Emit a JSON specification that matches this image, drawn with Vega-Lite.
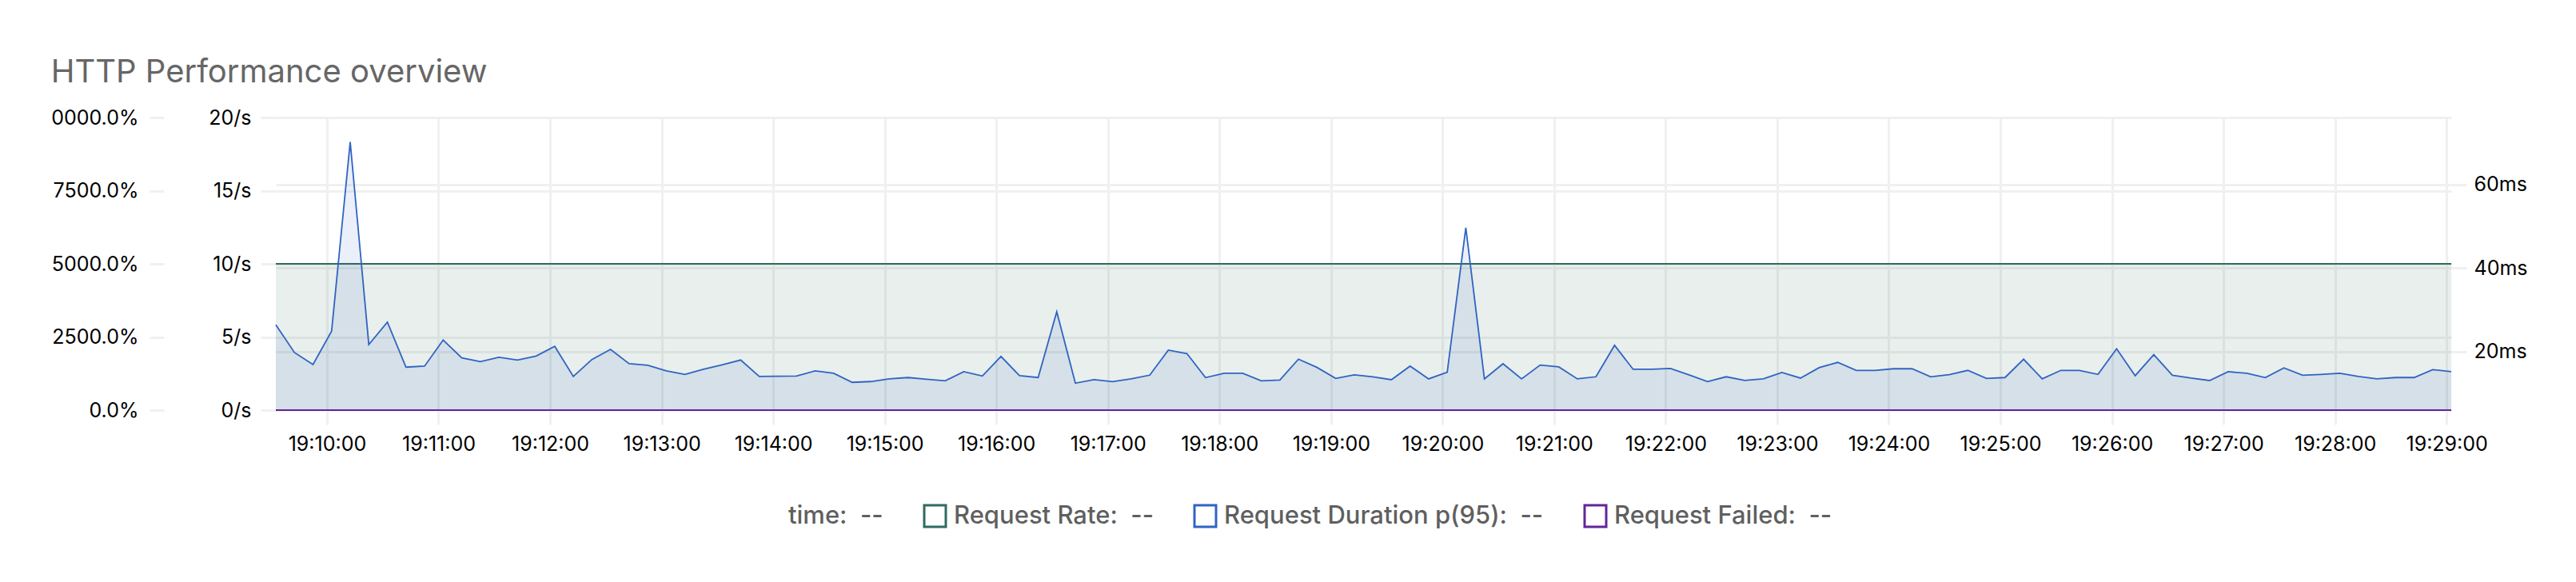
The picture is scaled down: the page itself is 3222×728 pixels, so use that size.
{
  "$schema": "https://vega.github.io/schema/vega-lite/v6.json",
  "width": 2721,
  "height": 366,
  "autosize": {"type": "none"},
  "padding": {"left": 345, "top": 147, "right": 156, "bottom": 215},
  "background": "white",
  "title": {"text": "HTTP Performance overview", "anchor": "start", "frame": "bounds", "font": "Inter", "fontSize": 40, "fontWeight": "normal", "color": "#666666", "baseline": "alphabetic", "offset": -8},
  "config": {
    "font": "Inter",
    "view": {"stroke": null},
    "axis": {"domain": false, "gridColor": "#f0f0f0", "gridWidth": 3, "tickColor": "#f0f0f0", "tickWidth": 3, "labelFont": "Inter", "labelFontSize": 25, "labelColor": "#000000"}
  },
  "data": {"values": [
    {"t": "2024-05-01T19:09:32.500", "rate": 10, "dur": 26.39, "failed": 0},
    {"t": "2024-05-01T19:09:42.500", "rate": 10, "dur": 19.74, "failed": 0},
    {"t": "2024-05-01T19:09:52.500", "rate": 10, "dur": 16.87, "failed": 0},
    {"t": "2024-05-01T19:10:02.500", "rate": 10, "dur": 24.86, "failed": 0},
    {"t": "2024-05-01T19:10:12.500", "rate": 10, "dur": 70.24, "failed": 0},
    {"t": "2024-05-01T19:10:22.500", "rate": 10, "dur": 21.66, "failed": 0},
    {"t": "2024-05-01T19:10:32.500", "rate": 10, "dur": 27.03, "failed": 0},
    {"t": "2024-05-01T19:10:42.500", "rate": 10, "dur": 16.23, "failed": 0},
    {"t": "2024-05-01T19:10:52.500", "rate": 10, "dur": 16.48, "failed": 0},
    {"t": "2024-05-01T19:11:02.500", "rate": 10, "dur": 22.75, "failed": 0},
    {"t": "2024-05-01T19:11:12.500", "rate": 10, "dur": 18.47, "failed": 0},
    {"t": "2024-05-01T19:11:22.500", "rate": 10, "dur": 17.57, "failed": 0},
    {"t": "2024-05-01T19:11:32.500", "rate": 10, "dur": 18.59, "failed": 0},
    {"t": "2024-05-01T19:11:42.500", "rate": 10, "dur": 17.95, "failed": 0},
    {"t": "2024-05-01T19:11:52.500", "rate": 10, "dur": 18.91, "failed": 0},
    {"t": "2024-05-01T19:12:02.500", "rate": 10, "dur": 21.21, "failed": 0},
    {"t": "2024-05-01T19:12:12.500", "rate": 10, "dur": 13.99, "failed": 0},
    {"t": "2024-05-01T19:12:22.500", "rate": 10, "dur": 18.08, "failed": 0},
    {"t": "2024-05-01T19:12:32.500", "rate": 10, "dur": 20.51, "failed": 0},
    {"t": "2024-05-01T19:12:42.500", "rate": 10, "dur": 17.06, "failed": 0},
    {"t": "2024-05-01T19:12:52.500", "rate": 10, "dur": 16.68, "failed": 0},
    {"t": "2024-05-01T19:13:02.500", "rate": 10, "dur": 15.33, "failed": 0},
    {"t": "2024-05-01T19:13:12.500", "rate": 10, "dur": 14.50, "failed": 0},
    {"t": "2024-05-01T19:13:22.500", "rate": 10, "dur": 15.72, "failed": 0},
    {"t": "2024-05-01T19:13:32.500", "rate": 10, "dur": 16.80, "failed": 0},
    {"t": "2024-05-01T19:13:42.500", "rate": 10, "dur": 17.95, "failed": 0},
    {"t": "2024-05-01T19:13:52.500", "rate": 10, "dur": 13.99, "failed": 0},
    {"t": "2024-05-01T19:14:02.500", "rate": 10, "dur": 14.06, "failed": 0},
    {"t": "2024-05-01T19:14:12.500", "rate": 10, "dur": 14.12, "failed": 0},
    {"t": "2024-05-01T19:14:22.500", "rate": 10, "dur": 15.33, "failed": 0},
    {"t": "2024-05-01T19:14:32.500", "rate": 10, "dur": 14.76, "failed": 0},
    {"t": "2024-05-01T19:14:42.500", "rate": 10, "dur": 12.59, "failed": 0},
    {"t": "2024-05-01T19:14:52.500", "rate": 10, "dur": 12.78, "failed": 0},
    {"t": "2024-05-01T19:15:02.500", "rate": 10, "dur": 13.42, "failed": 0},
    {"t": "2024-05-01T19:15:12.500", "rate": 10, "dur": 13.74, "failed": 0},
    {"t": "2024-05-01T19:15:22.500", "rate": 10, "dur": 13.35, "failed": 0},
    {"t": "2024-05-01T19:15:32.500", "rate": 10, "dur": 12.97, "failed": 0},
    {"t": "2024-05-01T19:15:42.500", "rate": 10, "dur": 15.14, "failed": 0},
    {"t": "2024-05-01T19:15:52.500", "rate": 10, "dur": 14.12, "failed": 0},
    {"t": "2024-05-01T19:16:02.500", "rate": 10, "dur": 18.79, "failed": 0},
    {"t": "2024-05-01T19:16:12.500", "rate": 10, "dur": 14.18, "failed": 0},
    {"t": "2024-05-01T19:16:22.500", "rate": 10, "dur": 13.74, "failed": 0},
    {"t": "2024-05-01T19:16:32.500", "rate": 10, "dur": 29.52, "failed": 0},
    {"t": "2024-05-01T19:16:42.500", "rate": 10, "dur": 12.39, "failed": 0},
    {"t": "2024-05-01T19:16:52.500", "rate": 10, "dur": 13.22, "failed": 0},
    {"t": "2024-05-01T19:17:02.500", "rate": 10, "dur": 12.78, "failed": 0},
    {"t": "2024-05-01T19:17:12.500", "rate": 10, "dur": 13.42, "failed": 0},
    {"t": "2024-05-01T19:17:22.500", "rate": 10, "dur": 14.31, "failed": 0},
    {"t": "2024-05-01T19:17:32.500", "rate": 10, "dur": 20.32, "failed": 0},
    {"t": "2024-05-01T19:17:42.500", "rate": 10, "dur": 19.49, "failed": 0},
    {"t": "2024-05-01T19:17:52.500", "rate": 10, "dur": 13.74, "failed": 0},
    {"t": "2024-05-01T19:18:02.500", "rate": 10, "dur": 14.76, "failed": 0},
    {"t": "2024-05-01T19:18:12.500", "rate": 10, "dur": 14.76, "failed": 0},
    {"t": "2024-05-01T19:18:22.500", "rate": 10, "dur": 12.97, "failed": 0},
    {"t": "2024-05-01T19:18:32.500", "rate": 10, "dur": 13.16, "failed": 0},
    {"t": "2024-05-01T19:18:42.500", "rate": 10, "dur": 18.15, "failed": 0},
    {"t": "2024-05-01T19:18:52.500", "rate": 10, "dur": 16.16, "failed": 0},
    {"t": "2024-05-01T19:19:02.500", "rate": 10, "dur": 13.54, "failed": 0},
    {"t": "2024-05-01T19:19:12.500", "rate": 10, "dur": 14.38, "failed": 0},
    {"t": "2024-05-01T19:19:22.500", "rate": 10, "dur": 13.93, "failed": 0},
    {"t": "2024-05-01T19:19:32.500", "rate": 10, "dur": 13.22, "failed": 0},
    {"t": "2024-05-01T19:19:42.500", "rate": 10, "dur": 16.48, "failed": 0},
    {"t": "2024-05-01T19:19:52.500", "rate": 10, "dur": 13.42, "failed": 0},
    {"t": "2024-05-01T19:20:02.500", "rate": 10, "dur": 15.01, "failed": 0},
    {"t": "2024-05-01T19:20:12.500", "rate": 10, "dur": 49.66, "failed": 0},
    {"t": "2024-05-01T19:20:22.500", "rate": 10, "dur": 13.42, "failed": 0},
    {"t": "2024-05-01T19:20:32.500", "rate": 10, "dur": 17.06, "failed": 0},
    {"t": "2024-05-01T19:20:42.500", "rate": 10, "dur": 13.42, "failed": 0},
    {"t": "2024-05-01T19:20:52.500", "rate": 10, "dur": 16.74, "failed": 0},
    {"t": "2024-05-01T19:21:02.500", "rate": 10, "dur": 16.29, "failed": 0},
    {"t": "2024-05-01T19:21:12.500", "rate": 10, "dur": 13.42, "failed": 0},
    {"t": "2024-05-01T19:21:22.500", "rate": 10, "dur": 13.93, "failed": 0},
    {"t": "2024-05-01T19:21:32.500", "rate": 10, "dur": 21.47, "failed": 0},
    {"t": "2024-05-01T19:21:42.500", "rate": 10, "dur": 15.72, "failed": 0},
    {"t": "2024-05-01T19:21:52.500", "rate": 10, "dur": 15.72, "failed": 0},
    {"t": "2024-05-01T19:22:02.500", "rate": 10, "dur": 15.91, "failed": 0},
    {"t": "2024-05-01T19:22:12.500", "rate": 10, "dur": 14.38, "failed": 0},
    {"t": "2024-05-01T19:22:22.500", "rate": 10, "dur": 12.78, "failed": 0},
    {"t": "2024-05-01T19:22:32.500", "rate": 10, "dur": 13.93, "failed": 0},
    {"t": "2024-05-01T19:22:42.500", "rate": 10, "dur": 13.03, "failed": 0},
    {"t": "2024-05-01T19:22:52.500", "rate": 10, "dur": 13.42, "failed": 0},
    {"t": "2024-05-01T19:23:02.500", "rate": 10, "dur": 14.95, "failed": 0},
    {"t": "2024-05-01T19:23:12.500", "rate": 10, "dur": 13.61, "failed": 0},
    {"t": "2024-05-01T19:23:22.500", "rate": 10, "dur": 16.10, "failed": 0},
    {"t": "2024-05-01T19:23:32.500", "rate": 10, "dur": 17.38, "failed": 0},
    {"t": "2024-05-01T19:23:42.500", "rate": 10, "dur": 15.46, "failed": 0},
    {"t": "2024-05-01T19:23:52.500", "rate": 10, "dur": 15.46, "failed": 0},
    {"t": "2024-05-01T19:24:02.500", "rate": 10, "dur": 15.85, "failed": 0},
    {"t": "2024-05-01T19:24:12.500", "rate": 10, "dur": 15.85, "failed": 0},
    {"t": "2024-05-01T19:24:22.500", "rate": 10, "dur": 13.93, "failed": 0},
    {"t": "2024-05-01T19:24:32.500", "rate": 10, "dur": 14.44, "failed": 0},
    {"t": "2024-05-01T19:24:42.500", "rate": 10, "dur": 15.46, "failed": 0},
    {"t": "2024-05-01T19:24:52.500", "rate": 10, "dur": 13.54, "failed": 0},
    {"t": "2024-05-01T19:25:02.500", "rate": 10, "dur": 13.74, "failed": 0},
    {"t": "2024-05-01T19:25:12.500", "rate": 10, "dur": 18.15, "failed": 0},
    {"t": "2024-05-01T19:25:22.500", "rate": 10, "dur": 13.42, "failed": 0},
    {"t": "2024-05-01T19:25:32.500", "rate": 10, "dur": 15.46, "failed": 0},
    {"t": "2024-05-01T19:25:42.500", "rate": 10, "dur": 15.46, "failed": 0},
    {"t": "2024-05-01T19:25:52.500", "rate": 10, "dur": 14.50, "failed": 0},
    {"t": "2024-05-01T19:26:02.500", "rate": 10, "dur": 20.64, "failed": 0},
    {"t": "2024-05-01T19:26:12.500", "rate": 10, "dur": 14.18, "failed": 0},
    {"t": "2024-05-01T19:26:22.500", "rate": 10, "dur": 19.23, "failed": 0},
    {"t": "2024-05-01T19:26:32.500", "rate": 10, "dur": 14.31, "failed": 0},
    {"t": "2024-05-01T19:26:42.500", "rate": 10, "dur": 13.61, "failed": 0},
    {"t": "2024-05-01T19:26:52.500", "rate": 10, "dur": 13.03, "failed": 0},
    {"t": "2024-05-01T19:27:02.500", "rate": 10, "dur": 15.14, "failed": 0},
    {"t": "2024-05-01T19:27:12.500", "rate": 10, "dur": 14.76, "failed": 0},
    {"t": "2024-05-01T19:27:22.500", "rate": 10, "dur": 13.74, "failed": 0},
    {"t": "2024-05-01T19:27:32.500", "rate": 10, "dur": 16.04, "failed": 0},
    {"t": "2024-05-01T19:27:42.500", "rate": 10, "dur": 14.31, "failed": 0},
    {"t": "2024-05-01T19:27:52.500", "rate": 10, "dur": 14.50, "failed": 0},
    {"t": "2024-05-01T19:28:02.500", "rate": 10, "dur": 14.76, "failed": 0},
    {"t": "2024-05-01T19:28:12.500", "rate": 10, "dur": 13.99, "failed": 0},
    {"t": "2024-05-01T19:28:22.500", "rate": 10, "dur": 13.42, "failed": 0},
    {"t": "2024-05-01T19:28:32.500", "rate": 10, "dur": 13.74, "failed": 0},
    {"t": "2024-05-01T19:28:42.500", "rate": 10, "dur": 13.74, "failed": 0},
    {"t": "2024-05-01T19:28:52.500", "rate": 10, "dur": 15.65, "failed": 0},
    {"t": "2024-05-01T19:29:02.500", "rate": 10, "dur": 15.14, "failed": 0}
  ]},
  "encoding": {
    "x": {"field": "t", "type": "temporal", "scale": {"nice": false},
      "axis": {"title": null, "format": "%H:%M:%S", "tickCount": 20, "grid": true, "tickSize": 18, "labelPadding": 12, "labelOverlap": false, "labelFlush": false}}
  },
  "layer": [
    {
      "encoding": {"y": {"field": "rate", "type": "quantitative", "scale": {"domain": [0, 20], "nice": false, "zero": true},
        "axis": {"title": null, "orient": "left", "values": [0, 5, 10, 15, 20], "labelExpr": "datum.value + '/s'", "tickSize": 19, "labelPadding": 12, "grid": true}}},
      "layer": [
        {"mark": {"type": "area", "color": "#2f6b5f", "fillOpacity": 0.11}},
        {"mark": {"type": "line", "strokeWidth": 2.2},
         "encoding": {"stroke": {"datum": "Request Rate", "type": "nominal",
           "scale": {"domain": ["time", "Request Rate", "Request Duration p(95)", "Request Failed"], "range": ["transparent", "#2f6b5f", "#3064c2", "#62259a"]},
           "legend": {"title": null, "orient": "none", "legendX": 602, "legendY": 483, "direction": "horizontal", "symbolType": "square", "symbolSize": 729, "symbolStrokeWidth": 3, "symbolFillColor": "transparent", "labelFont": "Inter", "labelFontSize": 31, "labelFontWeight": 500, "labelColor": "#5f5f5f", "labelOffset": 8, "labelLimit": 1000, "columnPadding": 45, "padding": 0,
             "labelExpr": "datum.label + ':\u00a0\u00a0--'"}}}}
      ]
    },
    {
      "encoding": {"y": {"field": "dur", "type": "quantitative", "scale": {"domain": [5.93, 76.1], "nice": false, "zero": false},
        "axis": {"title": null, "orient": "right", "values": [20, 40, 60], "labelExpr": "datum.value + 'ms'", "tickSize": 19, "labelPadding": 9, "grid": true}}},
      "layer": [
        {"mark": {"type": "area", "color": "#3064c2", "fillOpacity": 0.1, "clip": true}},
        {"mark": {"type": "line", "strokeWidth": 1.8},
         "encoding": {"stroke": {"datum": "Request Duration p(95)", "type": "nominal",
           "scale": {"domain": ["time", "Request Rate", "Request Duration p(95)", "Request Failed"], "range": ["transparent", "#2f6b5f", "#3064c2", "#62259a"]}}}}
      ]
    },
    {
      "mark": {"type": "line", "strokeWidth": 2.2},
      "encoding": {
        "y": {"field": "failed", "type": "quantitative", "scale": {"domain": [0, 100], "nice": false},
          "axis": {"title": null, "orient": "left", "offset": 140, "values": [0, 25, 50, 75, 100], "labelExpr": "datum.value >= 100 ? '0000.0%' : format(datum.value, '.1%')", "tickSize": 18, "labelPadding": 14, "grid": false}},
        "stroke": {"datum": "Request Failed", "type": "nominal",
          "scale": {"domain": ["time", "Request Rate", "Request Duration p(95)", "Request Failed"], "range": ["transparent", "#2f6b5f", "#3064c2", "#62259a"]}}
      }
    }
  ],
  "resolve": {"scale": {"y": "independent"}, "axis": {"y": "independent"}}
}
